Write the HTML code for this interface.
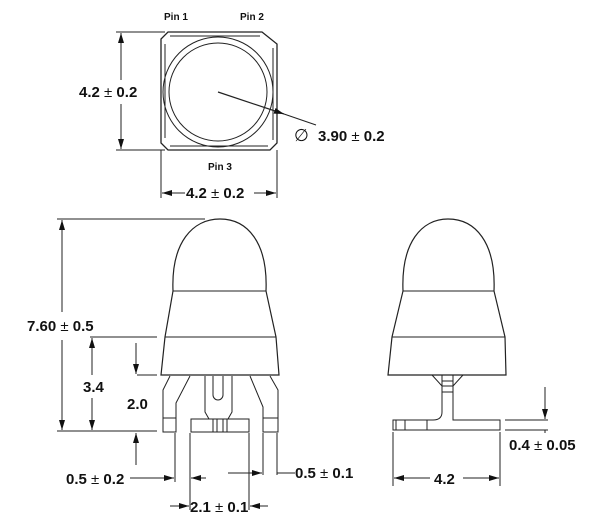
<!DOCTYPE html>
<html><head><style>
html,body{margin:0;padding:0;background:#fff;}
svg{display:block;}
text{font-family:"Liberation Sans",sans-serif;font-weight:bold;fill:#111;}
.pm{font-weight:normal;}
</style></head><body>
<svg width="615" height="527" viewBox="0 0 615 527" xmlns="http://www.w3.org/2000/svg">
<defs>
<marker id="a" viewBox="0 0 10 6" refX="10" refY="3" markerWidth="10" markerHeight="6" orient="auto" markerUnits="userSpaceOnUse"><path d="M0,0 L10,3 L0,6 z" fill="#111"/></marker>
</defs>
<g fill="none" stroke="#222" stroke-width="1">
<!-- top view -->
<path d="M168,32 H262 L277,44 V143 L270,150 H168 L161,143 V39 Z" stroke-width="1.3"/>
<path d="M170,36 H260 M273,48 V140 M165,44 V138 M170,146 H268"/>
<circle cx="218" cy="92" r="55"/>
<circle cx="218" cy="92" r="49"/>
<line x1="218" y1="92" x2="284" y2="114" marker-end="url(#a)" stroke-width="1.2"/>
<line x1="284" y1="114" x2="316" y2="125"/>
<line x1="116" y1="32" x2="165" y2="32"/><line x1="116" y1="150" x2="165" y2="150"/>
<line x1="121" y1="80" x2="121" y2="33" marker-end="url(#a)"/>
<line x1="121" y1="104" x2="121" y2="149" marker-end="url(#a)"/>
<line x1="161" y1="150" x2="161" y2="198"/><line x1="277" y1="150" x2="277" y2="198"/>
<line x1="185" y1="193" x2="162" y2="193" marker-end="url(#a)"/>
<line x1="254" y1="193" x2="276" y2="193" marker-end="url(#a)"/>

<!-- front view -->
<path d="M173,291 C171,242 193,219 220,219 C247,219 268,242 266,291 L276,337 L279,375 H161 L165,337 Z" stroke-width="1.2"/>
<line x1="173" y1="291" x2="266" y2="291"/><line x1="165" y1="337" x2="276" y2="337"/>
<path d="M170,376 L163,390 V432 H176 V403 L190,376"/>
<path d="M250,376 L263,407 V432 H278 V390 L270,376"/>
<line x1="163" y1="418" x2="176" y2="418"/><line x1="263" y1="418" x2="278" y2="418"/>
<path d="M205,376 V412 L209,419 M232,376 V412 L228,419"/>
<path d="M213,376 V395 A5,5 0 0 0 223,395 V376"/>
<rect x="191" y="419" width="58" height="13"/>
<path d="M213,419 V432 M217,419 V432 M223,419 V432 M227,419 V432"/>
<!-- front dims -->
<line x1="57" y1="219" x2="205" y2="219"/><line x1="57" y1="431" x2="157" y2="431"/>
<line x1="62" y1="312" x2="62" y2="220" marker-end="url(#a)"/>
<line x1="62" y1="340" x2="62" y2="430" marker-end="url(#a)"/>
<line x1="90" y1="337" x2="157" y2="337"/>
<line x1="92" y1="375" x2="92" y2="338" marker-end="url(#a)"/>
<line x1="92" y1="398" x2="92" y2="430" marker-end="url(#a)"/>
<line x1="137" y1="375" x2="157" y2="375"/>
<line x1="136" y1="343" x2="136" y2="374" marker-end="url(#a)"/>
<line x1="136" y1="465" x2="136" y2="433" marker-end="url(#a)"/>
<line x1="175" y1="433" x2="175" y2="482"/><line x1="190" y1="433" x2="190" y2="510"/>
<line x1="130" y1="478" x2="174" y2="478" marker-end="url(#a)"/>
<line x1="206" y1="478" x2="191" y2="478" marker-end="url(#a)"/>
<line x1="249" y1="433" x2="249" y2="510"/>
<line x1="263" y1="433" x2="263" y2="475"/><line x1="277" y1="433" x2="277" y2="475"/>
<line x1="228" y1="473" x2="262" y2="473" marker-end="url(#a)"/>
<line x1="277" y1="473" x2="295" y2="473"/>
<line x1="170" y1="506" x2="189" y2="506" marker-end="url(#a)"/>
<line x1="268" y1="506" x2="250" y2="506" marker-end="url(#a)"/>

<!-- side view -->
<path d="M403,291 C401,242 422,219 448,219 C475,219 496,242 494,291 L505,337 L506,375 H388 L392,337 Z" stroke-width="1.2"/>
<line x1="403" y1="291" x2="494" y2="291"/><line x1="392" y1="337" x2="505" y2="337"/>
<path d="M432,375 L442,386 M463,375 L453,386"/>
<path d="M442,375 V412 Q442,420 433,420 H393 V430 H500 V420 H453 V375"/>
<path d="M442,381 H453 M442,386 H453 M442,392 H453"/>
<path d="M396,420 V430 M405,420 V430 M427,420 V430"/>
<line x1="505" y1="420" x2="548" y2="420"/><line x1="505" y1="430" x2="548" y2="430"/>
<line x1="545" y1="387" x2="545" y2="419" marker-end="url(#a)"/>
<line x1="545" y1="430" x2="545" y2="433"/>
<line x1="393" y1="432" x2="393" y2="486"/><line x1="500" y1="432" x2="500" y2="486"/>
<line x1="430" y1="478" x2="394" y2="478" marker-end="url(#a)"/>
<line x1="463" y1="478" x2="499" y2="478" marker-end="url(#a)"/>
</g>
<g font-size="10">
<text x="164" y="20">Pin 1</text><text x="240" y="20">Pin 2</text><text x="208" y="170">Pin 3</text>
</g>
<g font-size="15">
<rect x="78" y="82" width="76" height="20" fill="#fff"/>
<text x="79" y="97">4.2 <tspan class="pm">±</tspan> 0.2</text>
<text x="186" y="198">4.2 <tspan class="pm">±</tspan> 0.2</text>
<text x="294" y="141" class="pm" font-size="17">∅</text>
<text x="318" y="141">3.90 <tspan class="pm">±</tspan> 0.2</text>
<text x="27" y="331">7.60 <tspan class="pm">±</tspan> 0.5</text>
<text x="83" y="392">3.4</text>
<text x="127" y="409">2.0</text>
<text x="66" y="484">0.5 <tspan class="pm">±</tspan> 0.2</text>
<text x="295" y="478">0.5 <tspan class="pm">±</tspan> 0.1</text>
<text x="190" y="512">2.1 <tspan class="pm">±</tspan> 0.1</text>
<text x="509" y="450">0.4 <tspan class="pm">±</tspan> 0.05</text>
<text x="434" y="484">4.2</text>
</g>
</svg>
</body></html>
